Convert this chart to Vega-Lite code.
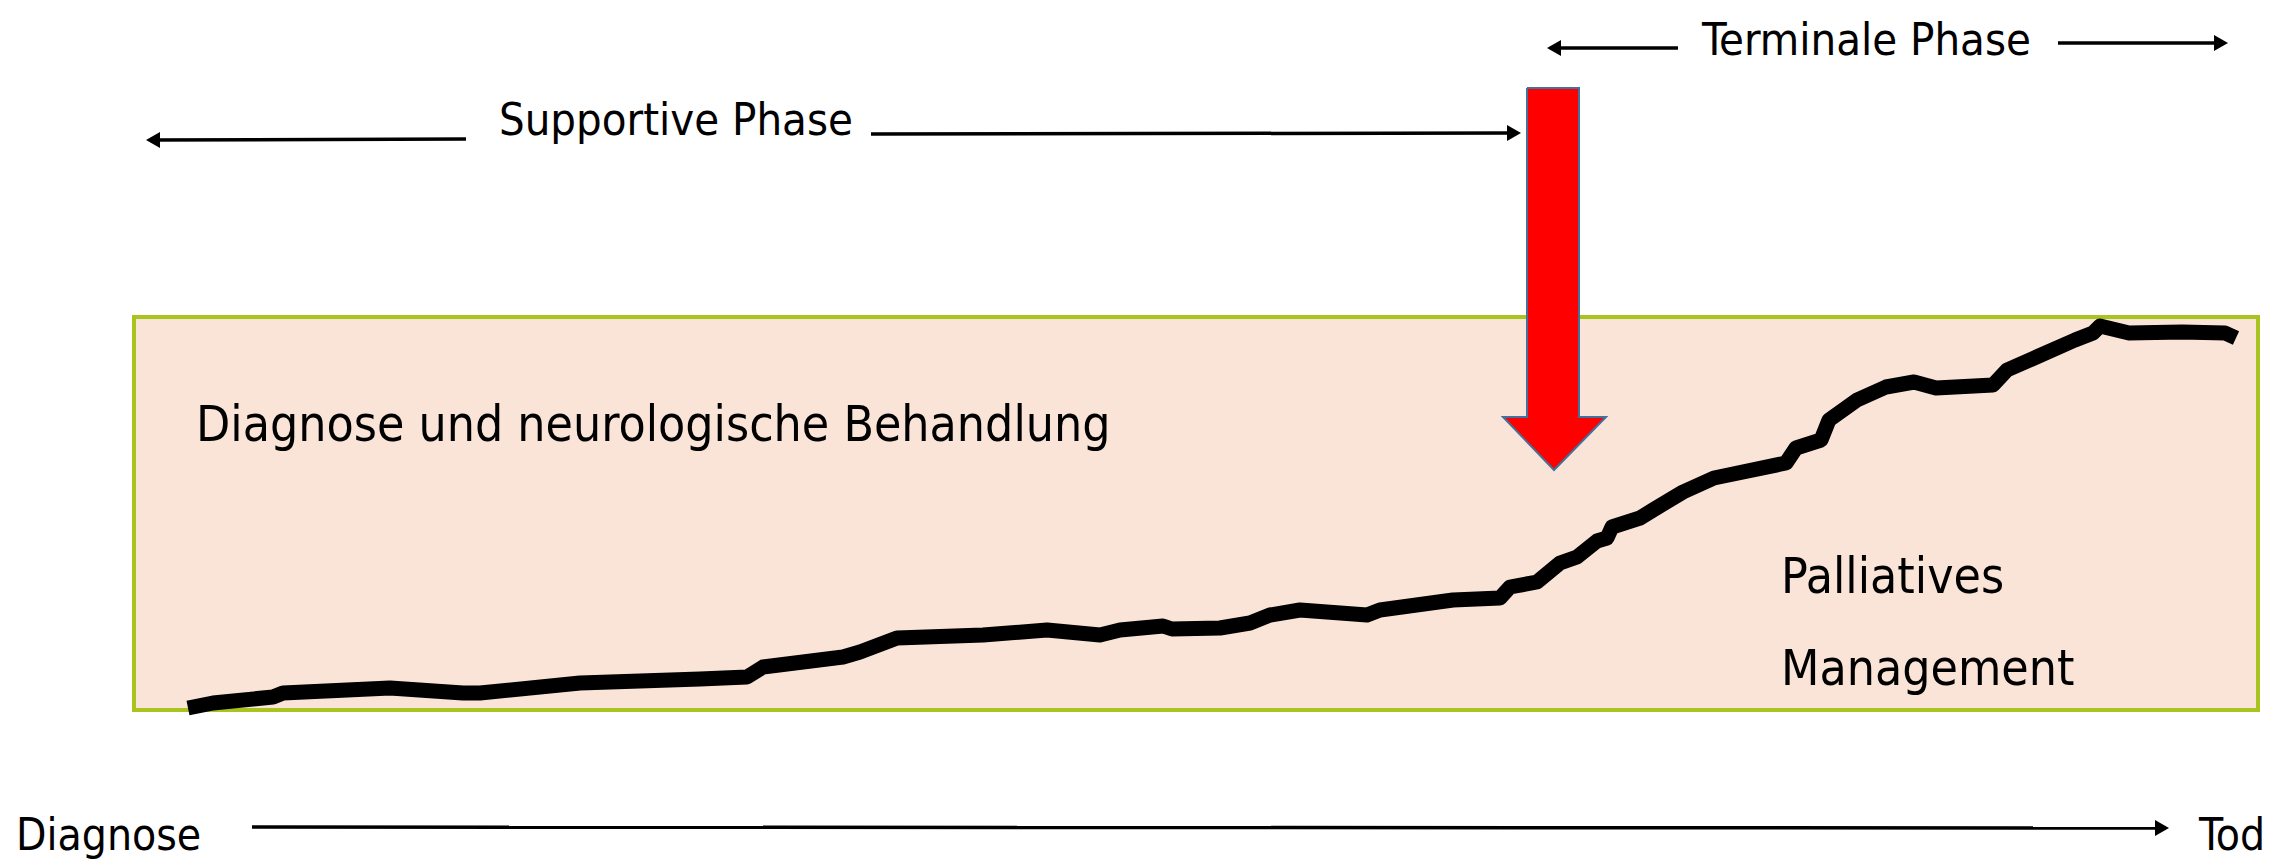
{
  "$schema": "https://vega.github.io/schema/vega-lite/v6.json",
  "width": 2292,
  "height": 860,
  "autosize": {"type": "fit", "contains": "padding"},
  "padding": 0,
  "background": "white",
  "config": {"view": {"stroke": null}},
  "encoding": {
    "x": {"field": "x", "type": "quantitative", "axis": null, "scale": {"domain": [0, 2292], "nice": false, "zero": false}},
    "y": {"field": "y", "type": "quantitative", "axis": null, "scale": {"domain": [0, 860], "nice": false, "zero": false, "reverse": true}}
  },
  "layer": [
    {
      "data": {"values": [{"x": 134, "x2": 2258, "y": 317, "y2": 710}]},
      "mark": {"type": "rect", "fill": "#fae4d7", "stroke": "#a9c41f", "strokeWidth": 4},
      "encoding": {"x2": {"field": "x2"}, "y2": {"field": "y2"}}
    },
    {
      "data": {"values": [
        {"x": 188, "y": 708}, {"x": 213, "y": 703}, {"x": 273, "y": 697}, {"x": 283, "y": 693},
        {"x": 390, "y": 688}, {"x": 463, "y": 693}, {"x": 480, "y": 693}, {"x": 580, "y": 683},
        {"x": 700, "y": 679}, {"x": 747, "y": 677}, {"x": 763, "y": 667}, {"x": 843, "y": 657},
        {"x": 860, "y": 652}, {"x": 897, "y": 638}, {"x": 983, "y": 635}, {"x": 1047, "y": 630},
        {"x": 1100, "y": 635}, {"x": 1120, "y": 630}, {"x": 1163, "y": 626}, {"x": 1172, "y": 629},
        {"x": 1220, "y": 628}, {"x": 1250, "y": 623}, {"x": 1270, "y": 615}, {"x": 1300, "y": 610},
        {"x": 1367, "y": 615}, {"x": 1380, "y": 610}, {"x": 1453, "y": 600}, {"x": 1500, "y": 598},
        {"x": 1510, "y": 587}, {"x": 1537, "y": 582}, {"x": 1560, "y": 563}, {"x": 1577, "y": 557},
        {"x": 1597, "y": 541}, {"x": 1607, "y": 538}, {"x": 1612, "y": 527}, {"x": 1640, "y": 518},
        {"x": 1653, "y": 510}, {"x": 1683, "y": 492}, {"x": 1714, "y": 478}, {"x": 1786, "y": 463},
        {"x": 1796, "y": 448}, {"x": 1821, "y": 440}, {"x": 1829, "y": 420}, {"x": 1857, "y": 400},
        {"x": 1886, "y": 387}, {"x": 1914, "y": 382}, {"x": 1936, "y": 388}, {"x": 1993, "y": 385},
        {"x": 2007, "y": 370}, {"x": 2075, "y": 340}, {"x": 2093, "y": 333}, {"x": 2100, "y": 326},
        {"x": 2129, "y": 333}, {"x": 2182, "y": 332}, {"x": 2225, "y": 333}, {"x": 2236, "y": 338}
      ]},
      "mark": {"type": "line", "color": "black", "strokeWidth": 15, "strokeJoin": "round", "strokeCap": "butt"},
      "encoding": {}
    },
    {
      "data": {"values": [{"x": 1527, "x2": 1579, "y": 88, "y2": 418}]},
      "mark": {"type": "rect", "fill": "#ff0000"},
      "encoding": {"x2": {"field": "x2"}, "y2": {"field": "y2"}}
    },
    {
      "data": {"values": [{"x": 1503, "y": 417, "y2": 417}, {"x": 1554, "y": 470, "y2": 417}, {"x": 1606, "y": 417, "y2": 417}]},
      "mark": {"type": "area", "fill": "#ff0000", "interpolate": "linear"},
      "encoding": {"y2": {"field": "y2"}}
    },
    {
      "data": {"values": [
        {"i": 0, "x": 1527, "y": 88}, {"i": 1, "x": 1579, "y": 88}, {"i": 2, "x": 1579, "y": 417},
        {"i": 3, "x": 1606, "y": 417}, {"i": 4, "x": 1554, "y": 470}, {"i": 5, "x": 1503, "y": 417},
        {"i": 6, "x": 1527, "y": 417}, {"i": 7, "x": 1527, "y": 88}
      ]},
      "mark": {"type": "line", "color": "#41719c", "strokeWidth": 2, "strokeJoin": "miter"},
      "encoding": {"order": {"field": "i", "type": "quantitative"}}
    },
    {
      "data": {"values": [
        {"x": 150, "x2": 466, "y": 140, "y2": 139},
        {"x": 871, "x2": 1512, "y": 134, "y2": 133},
        {"x": 1550, "x2": 1678, "y": 48, "y2": 48},
        {"x": 2058, "x2": 2220, "y": 43, "y2": 43},
        {"x": 252, "x2": 2162, "y": 827, "y2": 828}
      ]},
      "mark": {"type": "rule", "color": "black", "strokeWidth": 3.5},
      "encoding": {"x2": {"field": "x2"}, "y2": {"field": "y2"}}
    },
    {
      "data": {"values": [{"x": 153, "y": 140}, {"x": 1554, "y": 48}]},
      "mark": {"type": "point", "shape": "triangle-left", "filled": true, "color": "black", "size": 260, "opacity": 1},
      "encoding": {}
    },
    {
      "data": {"values": [{"x": 1514, "y": 133}, {"x": 2221, "y": 43}, {"x": 2162, "y": 828}]},
      "mark": {"type": "point", "shape": "triangle-right", "filled": true, "color": "black", "size": 260, "opacity": 1},
      "encoding": {}
    },
    {
      "data": {"values": [{"label": "Supportive Phase", "x": 499, "y": 135}, {"label": "Terminale Phase", "x": 1702, "y": 55}]},
      "mark": {"type": "text", "align": "left", "baseline": "alphabetic", "fontSize": 45, "color": "black", "font": "'Liberation Sans Narrow', 'DejaVu Sans Condensed', 'Roboto Condensed', 'Liberation Sans'"},
      "encoding": {"text": {"field": "label"}}
    },
    {
      "data": {"values": [
        {"label": "Diagnose und neurologische Behandlung", "x": 196, "y": 441},
        {"label": "Palliatives", "x": 1781, "y": 593},
        {"label": "Management", "x": 1781, "y": 685}
      ]},
      "mark": {"type": "text", "align": "left", "baseline": "alphabetic", "fontSize": 49.5, "color": "black", "font": "'Liberation Sans Narrow', 'DejaVu Sans Condensed', 'Roboto Condensed', 'Liberation Sans'"},
      "encoding": {"text": {"field": "label"}}
    },
    {
      "data": {"values": [{"label": "Diagnose", "x": 16, "y": 850}, {"label": "Tod", "x": 2199, "y": 850}]},
      "mark": {"type": "text", "align": "left", "baseline": "alphabetic", "fontSize": 44, "color": "black", "font": "'Liberation Sans Narrow', 'DejaVu Sans Condensed', 'Roboto Condensed', 'Liberation Sans'"},
      "encoding": {"text": {"field": "label"}}
    }
  ]
}
